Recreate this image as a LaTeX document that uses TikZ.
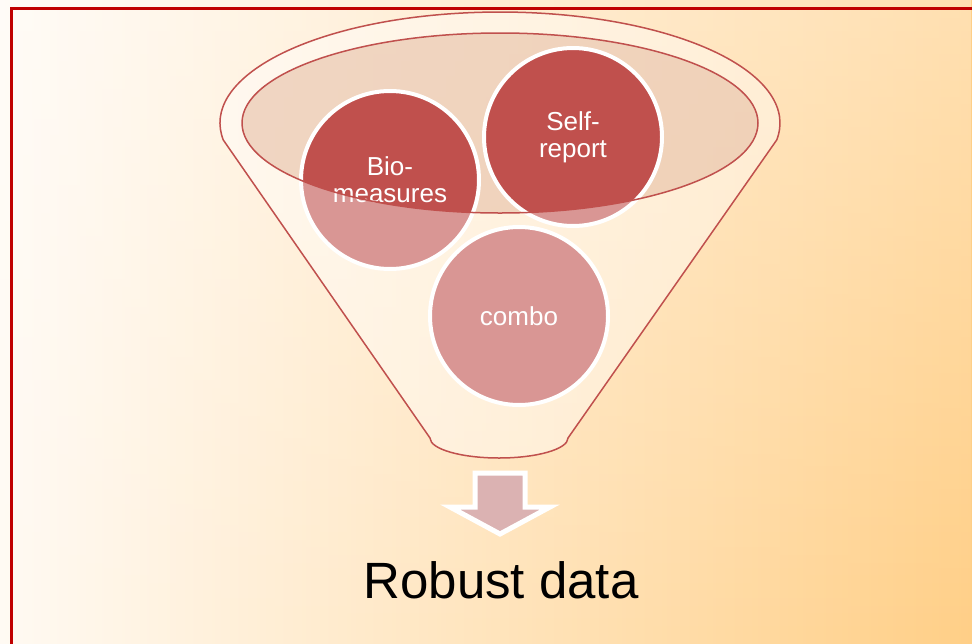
\documentclass[tikz,border=0pt]{standalone}
\usepackage{fontspec}
\setmainfont{Liberation Sans}
\usetikzlibrary{fadings}
\definecolor{accred}{RGB}{192,80,77}
\definecolor{framered}{RGB}{192,0,0}
\definecolor{bgleft}{RGB}{255,250,243}
\definecolor{bgmid}{RGB}{255,240,216}
\definecolor{bgright}{RGB}{255,207,135}
\definecolor{mouth}{RGB}{236,204,184}
\definecolor{arrowfill}{RGB}{219,178,178}
\tikzset{
  ball/.style={circle,draw=white,line width=4pt,fill=accred,text=white,
    minimum size=178pt,inner sep=0pt,align=center,
    font=\fontsize{26}{27}\selectfont},
  rim/.style={draw=accred,line width=1.5pt},
}

\begin{document}
\begin{tikzpicture}[x=1pt,y=1pt]
            \useasboundingbox (0,0) rectangle (972,-643);
            \clip (0,0) rectangle (972,-643);
            \shade[left color=bgleft,middle color=bgmid,right color=bgright] (0,0) rectangle (972,-643);
            \fill[white,fill opacity=0.35,path fading=south] (0,0) rectangle (972,-643);
            \draw[framered,line width=3.5pt] (11.5,-8.7) rectangle (1000,-700);

            % back of the funnel
            \path[fill=mouth,fill opacity=0.75] (500,-123) ellipse [x radius=258pt,y radius=90pt];

            \node[ball] (bio) at (390,-180) {Bio-\\measures};
            \node[ball] (self) at (573,-137) {Self-\\report};
            \node[ball] (combo) at (519,-316) {combo};

            % front of the funnel
            \path[fill=white,fill opacity=0.4,even odd rule]
              (223.3,-140) arc[start angle=188.8,end angle=-8.8,x radius=280pt,y radius=111pt]
              -- (568,-438) arc[start angle=0,end angle=-180,x radius=69pt,y radius=20pt] -- cycle
              (500,-123) ellipse [x radius=258pt,y radius=90pt];
            \draw[rim] (223.3,-140) arc[start angle=188.8,end angle=-8.8,x radius=280pt,y radius=111pt]
              -- (568,-438) arc[start angle=0,end angle=-180,x radius=69pt,y radius=20pt] -- cycle;
            \draw[rim] (500,-123) ellipse [x radius=258pt,y radius=90pt];

            \draw[white,line width=5pt,fill=arrowfill] (475,-473) -- (525,-473) -- (525,-507)
              -- (550,-507) -- (500,-534) -- (450,-507) -- (475,-507) -- cycle;
            \node[anchor=base,font=\fontsize{51}{55}\selectfont] (result) at (501,-598) {Robust data};
          \end{tikzpicture}
\end{document}
